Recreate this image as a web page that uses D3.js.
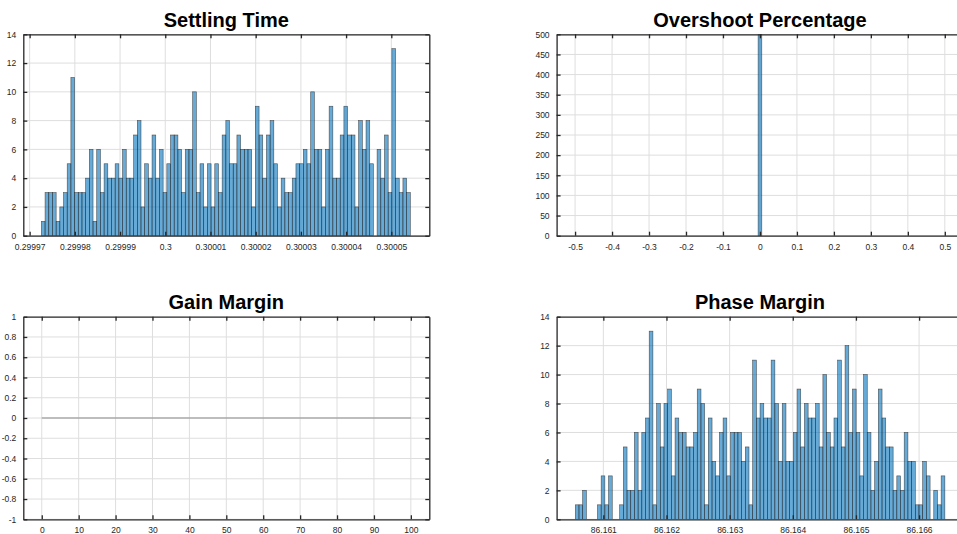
<!DOCTYPE html>
<html>
<head>
<meta charset="utf-8">
<script src="https://cdn.jsdelivr.net/npm/d3@7/dist/d3.min.js"></script>
<style>
  html, body { margin: 0; padding: 0; background: #fff; }
  svg { display: block; }
  text { font-family: "Liberation Sans", Arial, Helvetica, sans-serif; }
</style>
</head>
<body>
<svg id="fig" width="957" height="534"></svg>
<script>
// ---- Histogram data (counts per bin, 100 bins each) ----
const settlingCounts = [
  1,3,3,3,1,2,3,5,11,3, 3,3,4,6,1,6,3,5,4,4, 5,4,6,4,4,7,8,2,5,4,
  7,4,6,3,5,7,7,6,3,6, 6,10,3,5,2,5,2,5,3,7, 8,5,5,7,6,6,6,2,9,7,
  4,7,8,5,2,4,3,3,4,5, 5,6,5,10,6,6,2,6,9,4, 4,7,9,7,7,2,8,6,8,5,
  0,6,4,7,3,13,4,3,4,3
];
const settlingBinStart = 0.2999726;
const settlingBinWidth = 8.16e-7;
const settlingXDomain = [0.2999686, 0.3000584];
const settlingXTicks = [0.29997, 0.29998, 0.29999, 0.3, 0.30001, 0.30002, 0.30003, 0.30004, 0.30005];
const settlingYTicks = [0, 2, 4, 6, 8, 10, 12, 14];

const overshootCounts = [500];
const overshootBinStart = -0.005;
const overshootBinWidth = 0.01;
const overshootXDomain = [-0.55, 0.55];
const overshootXTicks = [-0.5, -0.4, -0.3, -0.2, -0.1, 0, 0.1, 0.2, 0.3, 0.4, 0.5];
const overshootYTicks = [0, 50, 100, 150, 200, 250, 300, 350, 400, 450, 500];

const gainLineX = [0, 100];
const gainLineY = [0, 0];
const gainXDomain = [-5, 105];
const gainXTicks = [0, 10, 20, 30, 40, 50, 60, 70, 80, 90, 100];
const gainYTicks = [-1, -0.8, -0.6, -0.4, -0.2, 0, 0.2, 0.4, 0.6, 0.8, 1];

const phaseCounts = [
  1,1,2,0,0,0,1,3,1,3, 0,0,1,5,2,2,6,2,6,7, 13,1,8,5,8,9,3,7,6,6,
  5,5,6,9,8,1,7,4,3,6, 7,3,6,6,6,4,5,1,11,7, 8,7,7,11,8,4,8,4,4,6,
  9,5,8,7,7,8,5,10,6,5, 7,11,5,12,6,9,6,3,10,6, 2,4,9,7,5,5,2,3,2,6,
  4,4,1,1,4,3,0,2,1,3
];
const phaseBinStart = 86.160556;
const phaseBinWidth = 5.852e-5;
const phaseXDomain = [86.16026, 86.16670];
const phaseXTicks = [86.161, 86.162, 86.163, 86.164, 86.165, 86.166];
const phaseYTicks = [0, 2, 4, 6, 8, 10, 12, 14];

// ---- Styling ----
const BAR_FILL = "#0072BD";
const BAR_OPACITY = 0.6;
const AXIS_COLOR = "#262626";
const GRID_COLOR = "#dedede";

const fmt = d3.formatLocale({
  decimal: ".", thousands: ",", grouping: [3], currency: ["", ""], minus: "-"
}).format("~g");

const svg = d3.select("#fig");
svg.append("rect").attr("width", 957).attr("height", 534).attr("fill", "#fff");

function binsFrom(counts, start, width) {
  return counts.map((c, i) => ({ x0: start + i * width, x1: start + (i + 1) * width, count: c }));
}

function panel(opt) {
  const g = svg.append("g");
  const x = d3.scaleLinear().domain(opt.xDomain).range([opt.left, opt.right]);
  const y = d3.scaleLinear().domain(opt.yDomain).range([opt.bottom, opt.top]);

  // clip region for the plot area
  const clipId = "clip-" + opt.id;
  svg.append("clipPath").attr("id", clipId)
    .append("rect").attr("x", opt.left).attr("y", opt.top)
    .attr("width", opt.right - opt.left).attr("height", opt.bottom - opt.top);

  // grid
  const grid = g.append("g").attr("clip-path", `url(#${clipId})`);
  grid.selectAll("line.gx").data(opt.xTicks).join("line")
    .attr("x1", d => x(d)).attr("x2", d => x(d))
    .attr("y1", opt.top).attr("y2", opt.bottom)
    .attr("stroke", GRID_COLOR).attr("stroke-width", 1);
  grid.selectAll("line.gy").data(opt.yTicks).join("line")
    .attr("x1", opt.left).attr("x2", opt.right)
    .attr("y1", d => y(d)).attr("y2", d => y(d))
    .attr("stroke", GRID_COLOR).attr("stroke-width", 1);

  // bars
  if (opt.bins) {
    g.append("g").attr("clip-path", `url(#${clipId})`)
      .selectAll("rect").data(opt.bins.filter(b => b.count > 0)).join("rect")
      .attr("x", d => x(d.x0))
      .attr("width", d => x(d.x1) - x(d.x0))
      .attr("y", d => y(d.count))
      .attr("height", d => y(0) - y(d.count))
      .attr("fill", BAR_FILL).attr("fill-opacity", BAR_OPACITY)
      .attr("stroke", AXIS_COLOR).attr("stroke-opacity", 0.75).attr("stroke-width", 0.6);
  }

  // line series
  if (opt.line) {
    g.append("path")
      .datum(opt.line.x.map((v, i) => [v, opt.line.y[i]]))
      .attr("d", d3.line().x(d => x(d[0])).y(d => y(d[1])))
      .attr("fill", "none").attr("stroke", "#8c8c8c").attr("stroke-width", 1.2);
  }

  // axes: bottom/left with labels, top/right as plain ticks (inward)
  const tl = 4;
  const bottomAxis = d3.axisBottom(x).tickValues(opt.xTicks).tickFormat(fmt).tickSizeInner(-tl).tickSizeOuter(0).tickPadding(8);
  const topAxis = d3.axisTop(x).tickValues(opt.xTicks).tickFormat("").tickSizeInner(-tl).tickSizeOuter(0);
  const leftAxis = d3.axisLeft(y).tickValues(opt.yTicks).tickFormat(fmt).tickSizeInner(-tl).tickSizeOuter(0).tickPadding(7);
  const rightAxis = d3.axisRight(y).tickValues(opt.yTicks).tickFormat("").tickSizeInner(-tl).tickSizeOuter(0);

  const styleAxis = sel => {
    sel.select(".domain").attr("stroke", AXIS_COLOR).attr("stroke-width", 1.3);
    sel.selectAll(".tick line").attr("stroke", AXIS_COLOR).attr("stroke-width", 1.3);
    sel.selectAll(".tick text").attr("fill", AXIS_COLOR).attr("font-size", 8.5)
      .attr("font-family", "Liberation Sans, Arial, sans-serif");
  };

  g.append("g").attr("transform", `translate(0,${opt.bottom})`).call(bottomAxis).call(styleAxis);
  g.append("g").attr("transform", `translate(0,${opt.top})`).call(topAxis).call(styleAxis);
  g.append("g").attr("transform", `translate(${opt.left},0)`).call(leftAxis).call(styleAxis);
  g.append("g").attr("transform", `translate(${opt.right},0)`).call(rightAxis).call(styleAxis);

  // title
  g.append("text")
    .attr("x", (opt.left + opt.right) / 2).attr("y", opt.top - 7.5)
    .attr("text-anchor", "middle").attr("font-weight", "bold").attr("font-size", 20)
    .attr("fill", "#000").text(opt.title);
}

const L = { left: 23.3, right: 429.3 };
const R = { left: 556.6, right: 963.3 };
const T = { top: 34.3, bottom: 235.7 };
const B = { top: 316.7, bottom: 519.3 };

panel({
  id: "settling", title: "Settling Time", ...L, ...T,
  xDomain: settlingXDomain, yDomain: [0, 14],
  xTicks: settlingXTicks, yTicks: settlingYTicks,
  bins: binsFrom(settlingCounts, settlingBinStart, settlingBinWidth)
});

panel({
  id: "overshoot", title: "Overshoot Percentage", ...R, ...T,
  xDomain: overshootXDomain, yDomain: [0, 500],
  xTicks: overshootXTicks, yTicks: overshootYTicks,
  bins: binsFrom(overshootCounts, overshootBinStart, overshootBinWidth)
});

panel({
  id: "gain", title: "Gain Margin", ...L, ...B,
  xDomain: gainXDomain, yDomain: [-1, 1],
  xTicks: gainXTicks, yTicks: gainYTicks,
  line: { x: gainLineX, y: gainLineY }
});

panel({
  id: "phase", title: "Phase Margin", ...R, ...B,
  xDomain: phaseXDomain, yDomain: [0, 14],
  xTicks: phaseXTicks, yTicks: phaseYTicks,
  bins: binsFrom(phaseCounts, phaseBinStart, phaseBinWidth)
});
</script>
</body>
</html>
